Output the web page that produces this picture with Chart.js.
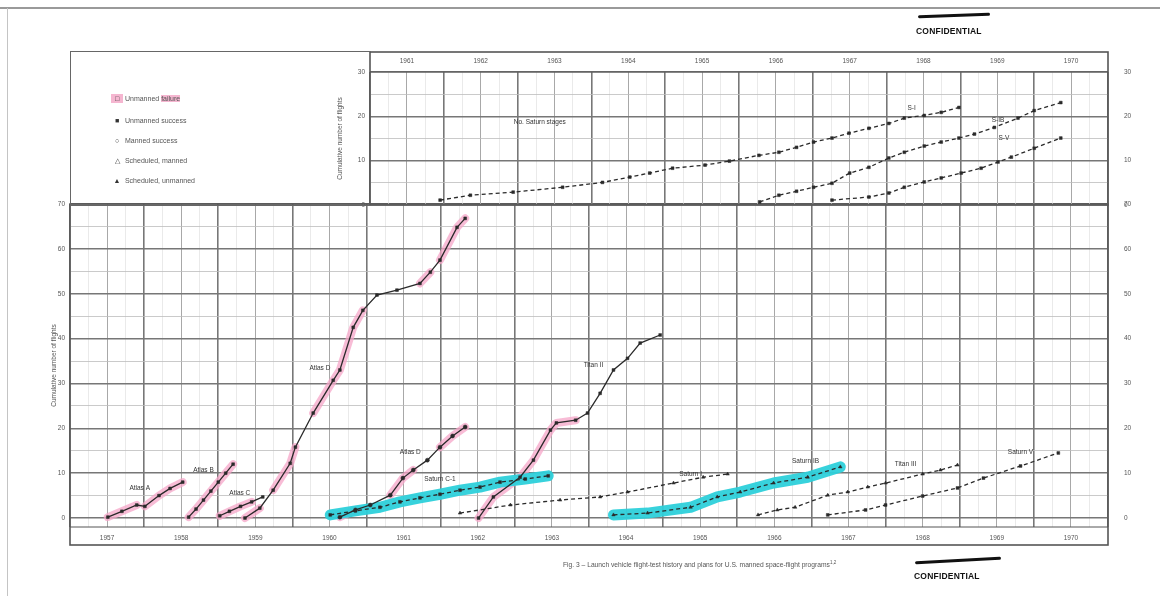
<!DOCTYPE html>
<html>
<head>
<meta charset="utf-8">
<title>Launch vehicle flight-test history and plans</title>
<script src="https://cdn.jsdelivr.net/npm/chart.js@4.4.0/dist/chart.umd.min.js"></script>
<style>
html, body { margin: 0; padding: 0; background: #fff; }
#page { position: relative; width: 1160px; height: 596px; overflow: hidden; font-family: "Liberation Sans", Arial, sans-serif; color: #444; filter: blur(0.45px); }
#page canvas { position: absolute; left: 0; top: 0; }
.edge-top { position: absolute; left: 0; top: 7px; width: 1160px; height: 2px; background: #9a9a9a; }
.edge-left { position: absolute; left: 7px; top: 8px; width: 1px; height: 588px; background: #c4c4c4; }
#legendBox { position: absolute; left: 70px; top: 51px; width: 301px; height: 155px; border: 1.5px solid #666; border-right: none; box-sizing: border-box; }
.key { position: absolute; left: 40px; font-size: 7px; line-height: 9px; white-space: nowrap; color: #555; }
.key .mk { display: inline-block; width: 12px; text-align: center; color: #333; }
.pink { background: #f5b6d0; }
#caption { position: absolute; left: 563px; top: 560px; font-size: 6.7px; color: #555; white-space: nowrap; }
#caption sup { font-size: 4.5px; }
.scribble { position: absolute; height: 3px; background: #111; border-radius: 2px; }
.stamp { position: absolute; font-size: 8.5px; font-weight: bold; color: #111; letter-spacing: 0.2px; }
</style>
</head>
<body>
<div id="page">
  <div class="edge-top"></div>
  <div class="edge-left"></div>
  <canvas id="lowerChart" width="1160" height="596"></canvas>
  <canvas id="upperChart" width="1160" height="596"></canvas>
  <div id="legendBox">
    <div class="key" style="top:42px"><span class="mk pink">&#9633;</span> Unmanned <span class="pink">failure</span></div>
    <div class="key" style="top:64px"><span class="mk">&#9632;</span> Unmanned success</div>
    <div class="key" style="top:84px"><span class="mk">&#9675;</span> Manned success</div>
    <div class="key" style="top:104px"><span class="mk">&#9651;</span> Scheduled, manned</div>
    <div class="key" style="top:124px"><span class="mk">&#9650;</span> Scheduled, unmanned</div>
  </div>
  <div id="caption">Fig. 3 &ndash; Launch vehicle flight-test history and plans for U.S. manned space-flight programs<sup>1,2</sup></div>
  <div class="scribble" style="left:918px; top:14px; width:72px; transform:rotate(-2deg)"></div>
  <div class="stamp" style="left:916px; top:26px">CONFIDENTIAL</div>
  <div class="scribble" style="left:915px; top:559px; width:86px; transform:rotate(-3deg)"></div>
  <div class="stamp" style="left:914px; top:571px">CONFIDENTIAL</div>
</div>
<script>
// lower panel: cumulative flights, 1957-1970
const atlasAYears = [1957.51, 1957.7, 1957.9, 1958.01, 1958.2, 1958.35, 1958.52];
const atlasAFlights = [0.2, 1.5, 2.9, 2.6, 5, 6.6, 8];
const atlasBYears = [1958.6, 1958.7, 1958.8, 1958.9, 1959.0, 1959.1, 1959.2];
const atlasBFlights = [0.2, 2, 4, 6, 8, 10, 12];
const atlasCYears = [1959.02, 1959.15, 1959.3, 1959.45, 1959.6];
const atlasCFlights = [0.5, 1.5, 2.6, 3.6, 4.7];
const atlasDYears = [1959.36, 1959.56, 1959.74, 1959.97, 1960.04, 1960.28, 1960.55, 1960.64, 1960.82, 1960.95, 1961.14, 1961.41, 1961.72, 1961.86, 1961.99, 1962.22, 1962.33];
const atlasDFlights = [0, 2.2, 6.2, 12.2, 15.8, 23.4, 30.7, 33, 42.5, 46.3, 49.7, 50.8, 52.3, 54.8, 57.5, 64.8, 66.8];
const mercuryAtlasYears = [1960.64, 1960.85, 1961.05, 1961.32, 1961.49, 1961.63, 1961.82, 1961.99, 1962.16, 1962.33];
const mercuryAtlasFlights = [0.2, 1.8, 2.9, 5.1, 8.9, 10.7, 12.9, 15.8, 18.3, 20.3];
const saturnC1Years = [1960.51, 1960.85, 1961.18, 1961.45, 1961.72, 1961.99, 1962.26, 1962.53, 1962.8, 1963.14, 1963.45];
const saturnC1Flights = [0.7, 1.6, 2.4, 3.6, 4.5, 5.3, 6.2, 6.9, 8, 8.7, 9.4];
const saturnIYears = [1962.26, 1962.94, 1963.61, 1964.15, 1964.52, 1965.14, 1965.54, 1965.87];
const saturnIFlights = [1.1, 2.9, 4, 4.7, 5.8, 7.8, 9.1, 9.8];
const titanIIYears = [1962.51, 1962.71, 1963.07, 1963.25, 1963.48, 1963.56, 1963.82, 1963.98, 1964.15, 1964.33, 1964.52, 1964.69, 1964.96];
const titanIIFlights = [0, 4.7, 9.1, 12.9, 19.6, 21.2, 21.8, 23.4, 27.8, 33, 35.6, 39, 40.8];
const saturnIBYears = [1964.33, 1964.79, 1965.37, 1965.73, 1966.04, 1966.49, 1966.95, 1967.39];
const saturnIBFlights = [0.7, 1.1, 2.4, 4.7, 5.8, 7.8, 9.1, 11.4];
const titanIIIYears = [1966.28, 1966.54, 1966.78, 1967.22, 1967.49, 1967.76, 1968.0, 1968.5, 1968.74, 1968.97];
const titanIIIFlights = [0.7, 1.8, 2.4, 5.1, 5.8, 6.9, 7.8, 9.8, 10.7, 11.8];
const saturnVYears = [1967.22, 1967.73, 1968.0, 1968.5, 1968.97, 1969.32, 1969.82, 1970.33];
const saturnVFlights = [0.7, 1.8, 2.9, 4.9, 6.7, 8.9, 11.6, 14.5];

// upper panel: stage flights, 1961-1970
const stageSIYears = [1961.95, 1962.36, 1962.94, 1963.61, 1964.15, 1964.52, 1964.79, 1965.1, 1965.54, 1965.87, 1966.27, 1966.54, 1966.78, 1967.01, 1967.26, 1967.49, 1967.76, 1968.03, 1968.24, 1968.51, 1968.74, 1968.98];
const stageSIFlights = [1.1, 2.2, 2.9, 4, 5.1, 6.3, 7.2, 8.3, 9, 9.9, 11.2, 11.9, 13, 14.2, 15.1, 16.2, 17.3, 18.4, 19.6, 20.2, 20.9, 22];
const stageSIBYears = [1966.28, 1966.54, 1966.78, 1967.01, 1967.26, 1967.5, 1967.76, 1968.03, 1968.24, 1968.51, 1968.74, 1968.98, 1969.19, 1969.46, 1969.78, 1970.0, 1970.36];
const stageSIBFlights = [0.7, 2.2, 3.1, 4, 4.9, 7.2, 8.5, 10.6, 11.9, 13.3, 14.2, 15.1, 16, 17.5, 19.6, 21.3, 23.1];
const stageSVYears = [1967.26, 1967.76, 1968.03, 1968.24, 1968.51, 1968.74, 1969.01, 1969.28, 1969.51, 1969.69, 1970.0, 1970.36];
const stageSVFlights = [1.1, 1.8, 2.7, 4, 5.2, 6.1, 7.2, 8.3, 9.7, 10.8, 12.8, 15.1];

// failure (pink) and program (cyan) highlights, as index ranges into the series above
const atlasAPink = [[0, 2], [3, 6]];
const atlasBPink = [[0, 6]];
const atlasCPink = [[0, 3]];
const atlasDPink = [[0, 1], [2, 4], [5, 9], [12, 13], [14, 16]];
const mercuryAtlasPink = [[0, 1], [3, 5], [7, 9]];
const titanIIPink = [[0, 6]];

// text labels written on the curves (year, flights)
const lowerLabelText = ['Atlas A', 'Atlas B', 'Atlas C', 'Atlas D', 'Atlas D', 'Saturn C-1', 'Titan II', 'Saturn I', 'Saturn IB', 'Titan III', 'Saturn V'];
const lowerLabelYears = [1957.94, 1958.8, 1959.29, 1960.37, 1961.59, 1961.99, 1964.06, 1965.37, 1966.92, 1968.27, 1969.82];
const lowerLabelFlights = [6.7, 10.7, 5.6, 33.4, 14.7, 8.7, 34.1, 9.8, 12.7, 12, 14.7];
const upperLabelText = ['No. Saturn stages', 'S-I', 'S-IB', 'S-V'];
const upperLabelYears = [1963.3, 1968.34, 1969.51, 1969.59];
const upperLabelFlights = [18.7, 21.8, 19.1, 15.1];

const yearTickLabels = [1957, 1958, 1959, 1960, 1961, 1962, 1963, 1964, 1965, 1966, 1967, 1968, 1969, 1970];

Chart.defaults.font.family = '"Liberation Sans", Arial, sans-serif';
Chart.defaults.font.size = 6.5;
Chart.defaults.color = '#555';

const PINK = 'rgba(245, 165, 200, 0.75)';
const CYAN = 'rgba(45, 208, 218, 0.95)';

function toPoints(xs, ys) {
    return xs.map((x, i) => ({ x: x, y: ys[i] }));
}

function seriesLine(xs, ys, style, dashed) {
    return {
        data: toPoints(xs, ys),
        borderColor: '#2a2a2a',
        borderWidth: 1.3,
        borderDash: dashed ? [4, 3] : [],
        pointStyle: style,
        pointRadius: 2,
        pointBackgroundColor: '#2a2a2a',
        pointBorderColor: '#2a2a2a',
        pointBorderWidth: 0.5,
        tension: 0,
        fill: false,
        order: 1
    };
}

function highlight(xs, ys, ranges, color, width) {
    return ranges.map(r => ({
        data: toPoints(xs.slice(r[0], r[1] + 1), ys.slice(r[0], r[1] + 1)),
        borderColor: color,
        borderWidth: width,
        borderCapStyle: 'round',
        borderJoinStyle: 'round',
        pointRadius: 0,
        tension: 0,
        fill: false,
        order: 5
    }));
}

function fullRange(xs) {
    return [[0, xs.length - 1]];
}

function yearLabel(value) {
    const year = Math.floor(value);
    if (Math.abs(value - year - 0.5) < 0.01 && yearTickLabels.includes(year)) {
        return String(year);
    }
    return '';
}

function xGridColor(ctx) {
    const v = ctx.tick ? ctx.tick.value : 0;
    if (Math.abs(v - Math.round(v)) < 0.01) return '#777';
    if (Math.abs(v * 2 - Math.round(v * 2)) < 0.01) return '#a8a8a8';
    return '#dcdcdc';
}

function xGridWidth(ctx) {
    const v = ctx.tick ? ctx.tick.value : 0;
    if (Math.abs(v - Math.round(v)) < 0.01) return 1.6;
    if (Math.abs(v * 2 - Math.round(v * 2)) < 0.01) return 1;
    return 0.6;
}

function yGridColor(ctx) {
    const v = ctx.tick ? ctx.tick.value : 0;
    if (v < 0) return 'rgba(0,0,0,0)';
    if (v % 10 === 0) return '#777';
    return '#bcbcbc';
}

function yGridWidth(ctx) {
    const v = ctx.tick ? ctx.tick.value : 0;
    return v % 10 === 0 ? 1.4 : 0.8;
}

function tensLabel(value) {
    return value >= 0 && value % 10 === 0 ? String(value) : '';
}

function labelPlugin(texts, xs, ys) {
    return {
        id: 'curveLabels',
        afterDatasetsDraw(chart) {
            const ctx = chart.ctx;
            const xScale = chart.scales.x;
            const yScale = chart.scales.y;
            ctx.save();
            ctx.font = '6.5px "Liberation Sans", Arial, sans-serif';
            ctx.fillStyle = '#333';
            ctx.textAlign = 'center';
            ctx.textBaseline = 'middle';
            texts.forEach((t, i) => {
                ctx.fillText(t, xScale.getPixelForValue(xs[i]), yScale.getPixelForValue(ys[i]));
            });
            ctx.restore();
        }
    };
}

const lowerFrame = {
    id: 'lowerFrame',
    afterDraw(chart) {
        const a = chart.chartArea;
        const xScale = chart.scales.x;
        const ctx = chart.ctx;
        ctx.save();
        ctx.strokeStyle = '#555';
        ctx.lineWidth = 1.6;
        ctx.strokeRect(a.left, a.top, a.right - a.left, xScale.bottom - a.top);
        ctx.lineWidth = 1;
        ctx.beginPath();
        ctx.moveTo(a.left, a.bottom);
        ctx.lineTo(a.right, a.bottom);
        ctx.stroke();
        ctx.restore();
    }
};

const upperFrame = {
    id: 'upperFrame',
    afterDraw(chart) {
        const a = chart.chartArea;
        const xScale = chart.scales.x;
        const ctx = chart.ctx;
        ctx.save();
        ctx.strokeStyle = '#555';
        ctx.lineWidth = 1.6;
        ctx.strokeRect(a.left, xScale.top, a.right - a.left, a.bottom - xScale.top);
        ctx.lineWidth = 1;
        ctx.beginPath();
        ctx.moveTo(a.left, a.top);
        ctx.lineTo(a.right, a.top);
        ctx.stroke();
        ctx.restore();
    }
};

function scalesFor(xMin, yMax, yMin, xPos, xHeight, yWidth, titlePad) {
    return {
        x: {
            type: 'linear', position: xPos, min: xMin, max: 1971,
            afterFit: (s) => { s.height = xHeight; },
            border: { display: false },
            grid: { color: xGridColor, lineWidth: xGridWidth, drawTicks: false },
            ticks: { stepSize: 0.25, maxTicksLimit: 1000, autoSkip: false, maxRotation: 0, padding: 7, callback: yearLabel }
        },
        y: {
            min: yMin, max: yMax,
            afterFit: (s) => { s.width = yWidth; },
            border: { display: false },
            grid: { color: yGridColor, lineWidth: yGridWidth, drawTicks: false },
            ticks: { stepSize: 5, maxTicksLimit: 1000, autoSkip: false, padding: 5, callback: tensLabel },
            title: { display: true, text: 'Cumulative number of flights', font: { size: 6.5 }, color: '#555', padding: { top: titlePad, bottom: 0 } }
        },
        y2: {
            position: 'right', min: yMin, max: yMax,
            afterFit: (s) => { s.width = 32; },
            border: { display: false },
            grid: { display: false },
            ticks: { stepSize: 5, maxTicksLimit: 1000, autoSkip: false, padding: 8, callback: tensLabel }
        }
    };
}

const lowerDatasets = [].concat(
    highlight(saturnC1Years, saturnC1Flights, fullRange(saturnC1Years), CYAN, 11),
    highlight(saturnIBYears, saturnIBFlights, fullRange(saturnIBYears), CYAN, 11),
    highlight(atlasAYears, atlasAFlights, atlasAPink, PINK, 8),
    highlight(atlasBYears, atlasBFlights, atlasBPink, PINK, 8),
    highlight(atlasCYears, atlasCFlights, atlasCPink, PINK, 8),
    highlight(atlasDYears, atlasDFlights, atlasDPink, PINK, 8),
    highlight(mercuryAtlasYears, mercuryAtlasFlights, mercuryAtlasPink, PINK, 8),
    highlight(titanIIYears, titanIIFlights, titanIIPink, PINK, 8),
    [
        seriesLine(atlasAYears, atlasAFlights, 'rect', false),
        seriesLine(atlasBYears, atlasBFlights, 'rect', false),
        seriesLine(atlasCYears, atlasCFlights, 'rect', false),
        seriesLine(atlasDYears, atlasDFlights, 'rect', false),
        seriesLine(mercuryAtlasYears, mercuryAtlasFlights, 'circle', false),
        seriesLine(saturnC1Years, saturnC1Flights, 'rect', true),
        seriesLine(saturnIYears, saturnIFlights, 'triangle', true),
        seriesLine(titanIIYears, titanIIFlights, 'rect', false),
        seriesLine(saturnIBYears, saturnIBFlights, 'triangle', true),
        seriesLine(titanIIIYears, titanIIIFlights, 'triangle', true),
        seriesLine(saturnVYears, saturnVFlights, 'rect', true)
    ]
);

new Chart(document.getElementById('lowerChart'), {
    type: 'line',
    data: { datasets: lowerDatasets },
    options: {
        responsive: false,
        animation: false,
        devicePixelRatio: 1,
        layout: { padding: { left: 40, right: 20, top: 204, bottom: 51 } },
        plugins: { legend: { display: false }, tooltip: { enabled: false } },
        scales: scalesFor(1957, 70, -2, 'bottom', 18, 30, 10)
    },
    plugins: [lowerFrame, labelPlugin(lowerLabelText, lowerLabelYears, lowerLabelFlights)]
});

new Chart(document.getElementById('upperChart'), {
    type: 'line',
    data: {
        datasets: [
            seriesLine(stageSIYears, stageSIFlights, 'rect', true),
            seriesLine(stageSIBYears, stageSIBFlights, 'rect', true),
            seriesLine(stageSVYears, stageSVFlights, 'rect', true)
        ]
    },
    options: {
        responsive: false,
        animation: false,
        devicePixelRatio: 1,
        layout: { padding: { left: 320, right: 20, top: 52, bottom: 391 } },
        plugins: { legend: { display: false }, tooltip: { enabled: false } },
        scales: scalesFor(1961, 30, 0, 'top', 20, 50, 16)
    },
    plugins: [upperFrame, labelPlugin(upperLabelText, upperLabelYears, upperLabelFlights)]
});
</script>
</body>
</html>
